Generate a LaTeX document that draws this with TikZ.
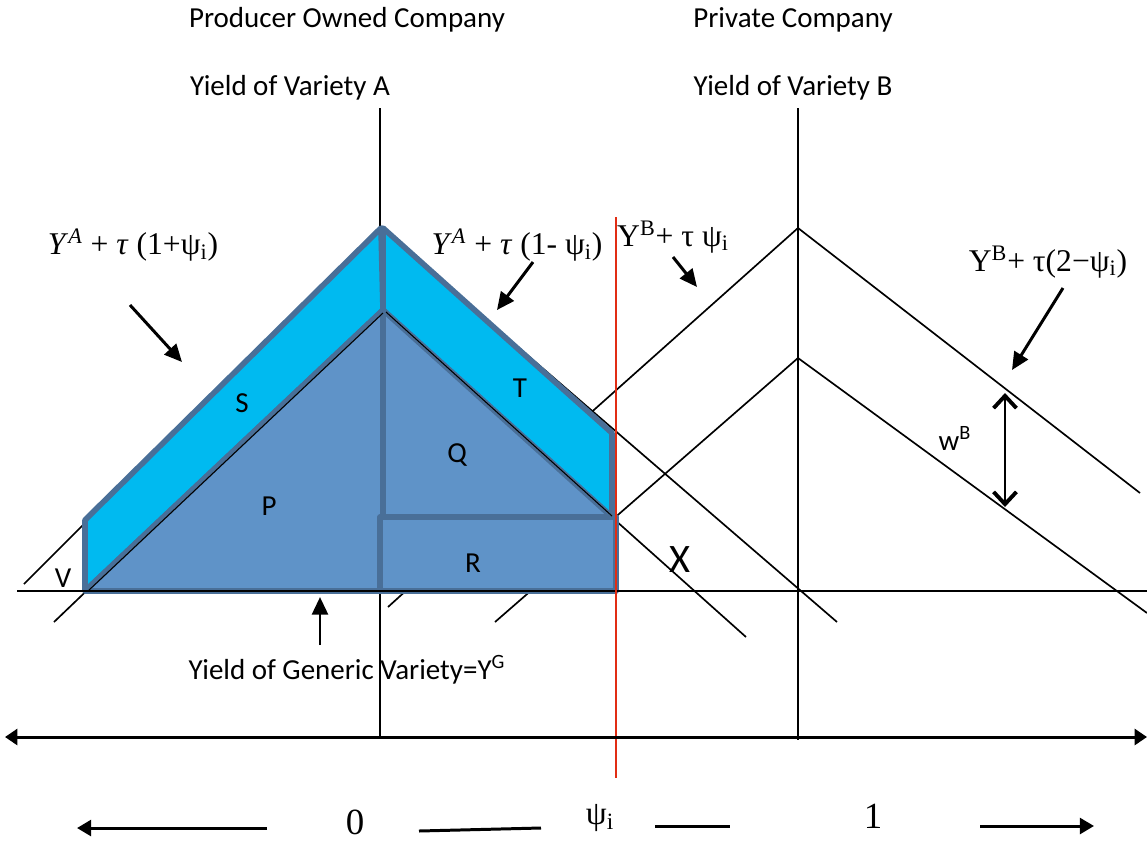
\documentclass[tikz,border=0pt]{standalone}
\usepackage{fontspec}
\setmainfont{Carlito}
\newfontfamily\serifg{Liberation Serif}
\usetikzlibrary{arrows.meta}
\definecolor{lblue}{RGB}{0,186,240}
\definecolor{mblue}{RGB}{95,147,200}
\definecolor{edge}{RGB}{73,111,152}
\definecolor{redl}{RGB}{225,45,20}
\begin{document}
\begin{tikzpicture}[x=0.02cm,y=-0.02cm,
  thin/.style={line width=0.95pt, black},
  region/.style={line width=3.2pt, draw=edge, line join=round},
  ptr/.style={line width=1.7pt, -{Triangle[length=10pt,width=9pt]}},
  axisline/.style={line width=1.7pt},
  lbl/.style={font=\fontsize{16.5}{19}\selectfont, inner sep=0pt},
  reg/.style={font=\fontsize{16.5}{19}\selectfont, inner sep=0pt},
  mth/.style={font=\serifg\fontsize{18}{20}\selectfont, inner sep=0pt}]
\useasboundingbox (0,0) rectangle (1147,840);

% coordinates
\coordinate (apA) at (380,228);
\coordinate (apAi) at (380,310);
\coordinate (apB) at (798,228);
\coordinate (apBi) at (798,358);

% thin black lines (under shapes)
\draw[thin] (380,108) -- (380,737);
\draw[thin] (798,108) -- (798,740);
\draw[thin] (apA) -- (24,584);
\draw[thin] (apA) -- (837,622);
\draw[thin] (apAi) -- (54,622);
\draw[thin] (apAi) -- (746,637);
\draw[thin] (apB) -- (540,458);
\draw[thin] (388,607) -- (420,578);
\draw[thin] (apBi) -- (495,622);
\draw[thin] (apB) -- (1140,493);
\draw[thin] (apBi) -- (1147,613);

% shaded regions
\path[region, fill=lblue] (85,520) -- (381,228) -- (383,310) -- (85,591) -- cycle;
\path[region, fill=lblue] (383,228) -- (612,433) -- (612,517) -- (383,310) -- cycle;
\path[region, fill=mblue] (85,591) -- (383,310) -- (383,591) -- cycle;
\path[region, fill=mblue] (383,310) -- (612,517) -- (383,517) -- cycle;
\path[region, fill=mblue] (380,517) -- (616,517) -- (616,591) -- (380,591) -- cycle;
\draw[line width=0.6pt] (88,591) -- (383,313);
\draw[line width=0.6pt] (386,312) -- (612,516);

% baseline and red line
\draw[thin] (17,591) -- (1147,591);
\draw[line width=0.85pt, redl] (616,217) -- (616,778);

% axis
\draw[axisline, {Triangle[length=7pt,width=9pt]}-{Triangle[length=7pt,width=9pt]}] (5,737) -- (1147,737);

% titles
\node[lbl] (t1) at (347,20) {Producer Owned Company};
\node[lbl] (t2) at (793,20) {Private Company};
\node[lbl] (t3) at (290,88) {Yield of Variety A};
\node[lbl] (t4) at (793,88) {Yield of Variety B};

% formula labels
\node[mth] (f1) at (133,245) {\textit{Y}\textsuperscript{\textit{A}} + \textit{τ} (1+ψ\textsubscript{i})};
\node[mth] (f2) at (517,245) {\textit{Y}\textsuperscript{\textit{A}} + \textit{τ} (1- ψ\textsubscript{i})};
\node[mth] (f3) at (673,237) {Y\textsuperscript{B}+ τ ψ\textsubscript{i}};
\node[mth] (f4) at (1048,262) {Y\textsuperscript{B}+ τ(2−ψ\textsubscript{i})};

% region labels
\node[reg] (S) at (242,403) {S};
\node[reg] (T) at (520,388) {T};
\node[reg] (Q) at (457,455) {Q};
\node[reg] (P) at (269,506) {P};
\node[reg] (R) at (473,563) {R};
\node[reg] (V) at (63,578) {V};
\node[font=\fontsize{23}{25}\selectfont, inner sep=0pt] (X) at (680,560) {X};
\node[reg] (wB) at (955,438) {w\textsuperscript{B}};
\node[lbl] (gen) at (347,670) {Yield of Generic Variety=Y\textsuperscript{G}};

% pointer arrows
\coordinate (a1s) at (130,305); \coordinate (a1e) at (182,362);
\coordinate (a2s) at (533,262); \coordinate (a2e) at (497,310);
\coordinate (a3s) at (673,257); \coordinate (a3e) at (697,287);
\coordinate (a4s) at (1063,288); \coordinate (a4e) at (1012,370);
\coordinate (a5s) at (320,645); \coordinate (a5e) at (320,597);
\draw[ptr] (a1s) -- (a1e);
\draw[ptr] (a2s) -- (a2e);
\draw[ptr] (a3s) -- (a3e);
\draw[ptr] (a4s) -- (a4e);
\draw[ptr] (a5s) -- (a5e);
\coordinate (wt) at (1005,393); \coordinate (wb) at (1005,507);
\draw[line width=1.6pt, {Straight Barb[length=7pt,width=13pt,line width=2.2pt]}-{Straight Barb[length=7pt,width=13pt,line width=2.2pt]}] (wt) -- (wb);

% bottom legend
\node[font=\serifg\fontsize{21}{23}\selectfont, inner sep=0pt] (zero) at (355,822) {0};
\node[font=\serifg\fontsize{19}{21}\selectfont, inner sep=0pt] (psi) at (600,818) {ψ\textsubscript{i}};
\node[font=\serifg\fontsize{21}{23}\selectfont, inner sep=0pt] (one) at (873,816) {1};
\coordinate (l1) at (267,828); \coordinate (l2) at (77,828);
\coordinate (m1) at (419,831); \coordinate (m2) at (541,828);
\coordinate (n1) at (655,826); \coordinate (n2) at (730,826);
\coordinate (r1) at (980,826); \coordinate (r2) at (1094,826);
\draw[line width=1.7pt, -{Triangle[length=8pt,width=9pt]}] (l1) -- (l2);
\draw[line width=1.7pt] (m1) -- (m2);
\draw[line width=1.7pt] (n1) -- (n2);
\draw[line width=1.7pt, -{Triangle[length=8pt,width=9pt]}] (r1) -- (r2);
\end{tikzpicture}
\end{document}
